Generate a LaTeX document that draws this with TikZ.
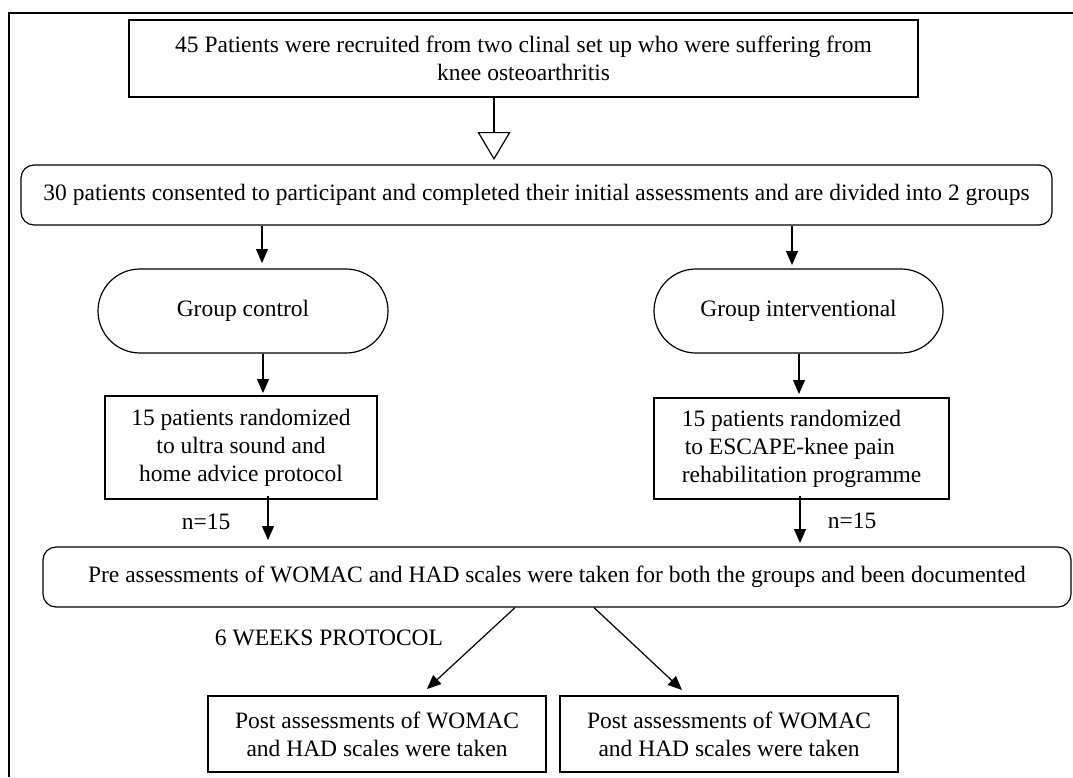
\documentclass[tikz,border=0pt]{standalone}
\usepackage{fontspec}
\setmainfont{Liberation Serif}
\usetikzlibrary{arrows.meta}
\begin{document}
\begin{tikzpicture}[x=1pt,y=-1pt,
  every node/.style={font=\fontsize{23.5}{28}\selectfont, line width=1.2pt, inner sep=0pt},
  box/.style={draw, align=center},
  rbox/.style={draw, rounded corners=13pt, align=center},
  stad/.style={draw, rounded corners=42pt, align=center},
  arr/.style={line width=1.2pt, -{Triangle[width=12pt,length=14pt]}},
  hollow/.style={line width=1.2pt, -{Triangle[open,width=33pt,length=28pt]}},
  lbl/.style={align=center}
  ]
\useasboundingbox (0,0) rectangle (1073,777);
\draw[line width=1.3pt] (9,777) -- (9,13) -- (1073,13);

\node[box, minimum width=789pt, minimum height=77pt] (b1) at (523.5,58.5)
  {45 Patients were recruited from two clinal set up who were suffering from\\knee osteoarthritis};
\node[rbox, minimum width=1031pt, minimum height=60pt] (b2) at (536.5,195)
  {30 patients consented to participant and completed their initial assessments and are divided into 2 groups};
\node[stad, minimum width=290pt, minimum height=84pt] (gc) at (243,311) {Group control};
\node[stad, minimum width=289pt, minimum height=84pt] (gi) at (798.5,311) {Group interventional};
\node[box, minimum width=272pt, minimum height=103pt] (rl) at (241,447.5)
  {15 patients randomized\\to ultra sound and\\home advice protocol};
\node[box, align=left, minimum width=295pt, minimum height=101pt] (rr) at (801.5,448.5)
  {15 patients randomized\\\hspace{3pt}to ESCAPE-knee pain\\rehabilitation programme};
\node[lbl] (nl) at (206,522) {n=15};
\node[lbl] (nr) at (852,521) {n=15};
\node[rbox, minimum width=1028pt, minimum height=60pt] (pre) at (557,577)
  {Pre assessments of WOMAC and HAD scales were taken for both the groups and been documented};
\node[lbl] (wk) at (329,638) {6 WEEKS PROTOCOL};
\node[box, minimum width=338pt, minimum height=76pt] (pl) at (377,734)
  {Post assessments of WOMAC\\and HAD scales were taken};
\node[box, minimum width=338pt, minimum height=76pt] (pr) at (729,734)
  {Post assessments of WOMAC\\and HAD scales were taken};

\coordinate (h1) at (494,160);
\coordinate (t1) at (262,263);
\coordinate (t2) at (792,265);
\coordinate (t3) at (263,393);
\coordinate (t4) at (799,394);
\coordinate (t5) at (268,540);
\coordinate (t6) at (800,543);
\coordinate (s7) at (515,607);
\coordinate (t7) at (427,689);
\coordinate (s8) at (594,607);
\coordinate (t8) at (682,690);

\draw[hollow] (b1.south -| h1) -- (h1);
\draw[arr] (b2.south -| t1) -- (t1);
\draw[arr] (b2.south -| t2) -- (t2);
\draw[arr] (gc.south -| t3) -- (t3);
\draw[arr] (gi.south -| t4) -- (t4);
\draw[arr] ([yshift=4pt]rl.south -| t5) -- (t5);
\draw[arr] ([yshift=4pt]rr.south -| t6) -- (t6);
\draw[arr] (pre.south -| s7) -- (t7);
\draw[arr] (pre.south -| s8) -- (t8);
\end{tikzpicture}
\end{document}
